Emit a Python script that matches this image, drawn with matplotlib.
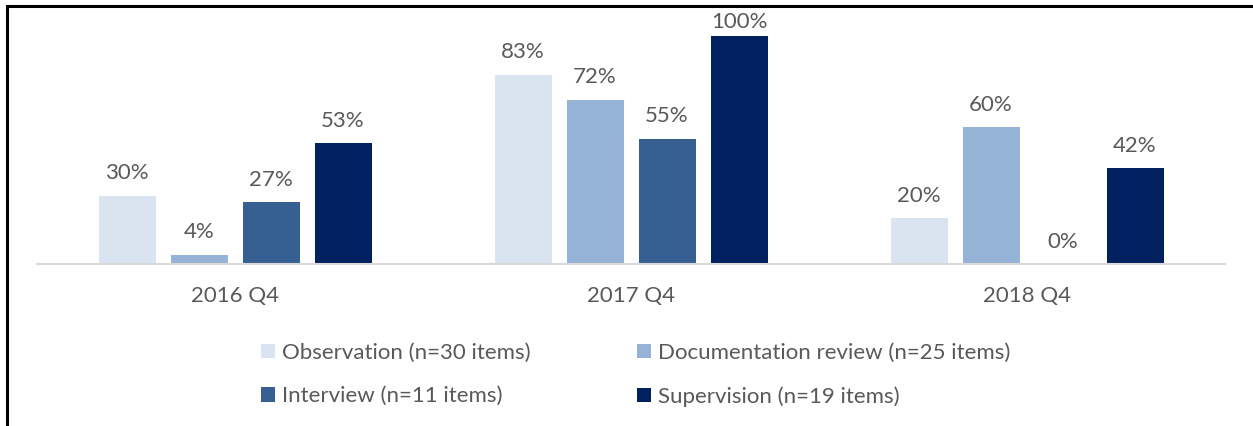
import numpy as np
import matplotlib.pyplot as plt
from matplotlib.lines import Line2D

#data
quarters = ["2016 Q4", "2017 Q4", "2018 Q4"]
methods = ["Observation (n=30 items)", "Documentation review (n=25 items)",
           "Interview (n=11 items)", "Supervision (n=19 items)"]
observation = [0.30, 0.83, 0.20]
documentation = [0.04, 0.72, 0.60]
interview = [0.27, 0.55, 0.00]
supervision = [0.53, 1.00, 0.42]
colors = ["#DAE3F0", "#95B3D7", "#366092", "#002060"]

plt.rcParams['font.family'] = ['Lato', 'DejaVu Sans']
txt = "#595959"
fs = 16

W, H = 1253, 426
fig = plt.figure(figsize=(W/100, H/100), dpi=100)
ax = fig.add_axes([37/W, (H-264)/H, (1225-37)/W, (264-24.6)/H])

x = np.arange(len(quarters))
bw = 57/396
step = 72/396
series = [observation, documentation, interview, supervision]
handles = []
for i, (vals, c, name) in enumerate(zip(series, colors, methods)):
    pos = x + (i-1.5)*step
    bars = ax.bar(pos, vals, bw, color=c, label=name)
    handles.append(bars)
    for b, v in zip(bars, vals):
        off = 3 if v >= 1.0 else 9  #label pushed down at the top like excel does
        ax.annotate(f"{v:.0%}", (b.get_x()+b.get_width()/2, v), xytext=(0, off),
                    textcoords="offset points", ha="center", va="bottom",
                    fontsize=fs, color=txt)

ax.set_xlim(-0.5, 2.5)
ax.set_ylim(0, 1.05)
ax.set_yticks([])
ax.set_xticks(x)
ax.set_xticklabels(quarters, fontsize=fs, color=txt)
ax.tick_params(axis='x', length=0, pad=16)
for s in ["top", "right", "left"]:
    ax.spines[s].set_visible(False)
ax.spines["bottom"].set_color("#D9D9D9")
ax.spines["bottom"].set_linewidth(1.5)

#row-major order for the 2 column legend
order = [0, 2, 1, 3]
leg = fig.legend([handles[k] for k in order], [methods[k] for k in order],
                 loc="upper left", bbox_to_anchor=(241/W, 1-323/H), ncol=2,
                 frameon=False, fontsize=fs, handlelength=0.63, handleheight=0.63,
                 handletextpad=0.3, columnspacing=4.8, labelspacing=1.05)
for t in leg.get_texts():
    t.set_color(txt)

#border on top and left
fig.add_artist(Line2D([7/W, 7/W], [0, 1-6/H], color="black", lw=2.2, transform=fig.transFigure))
fig.add_artist(Line2D([7/W, 1], [1-6/H, 1-6/H], color="black", lw=2.2, transform=fig.transFigure))

fig.savefig("out.png", dpi=100)
